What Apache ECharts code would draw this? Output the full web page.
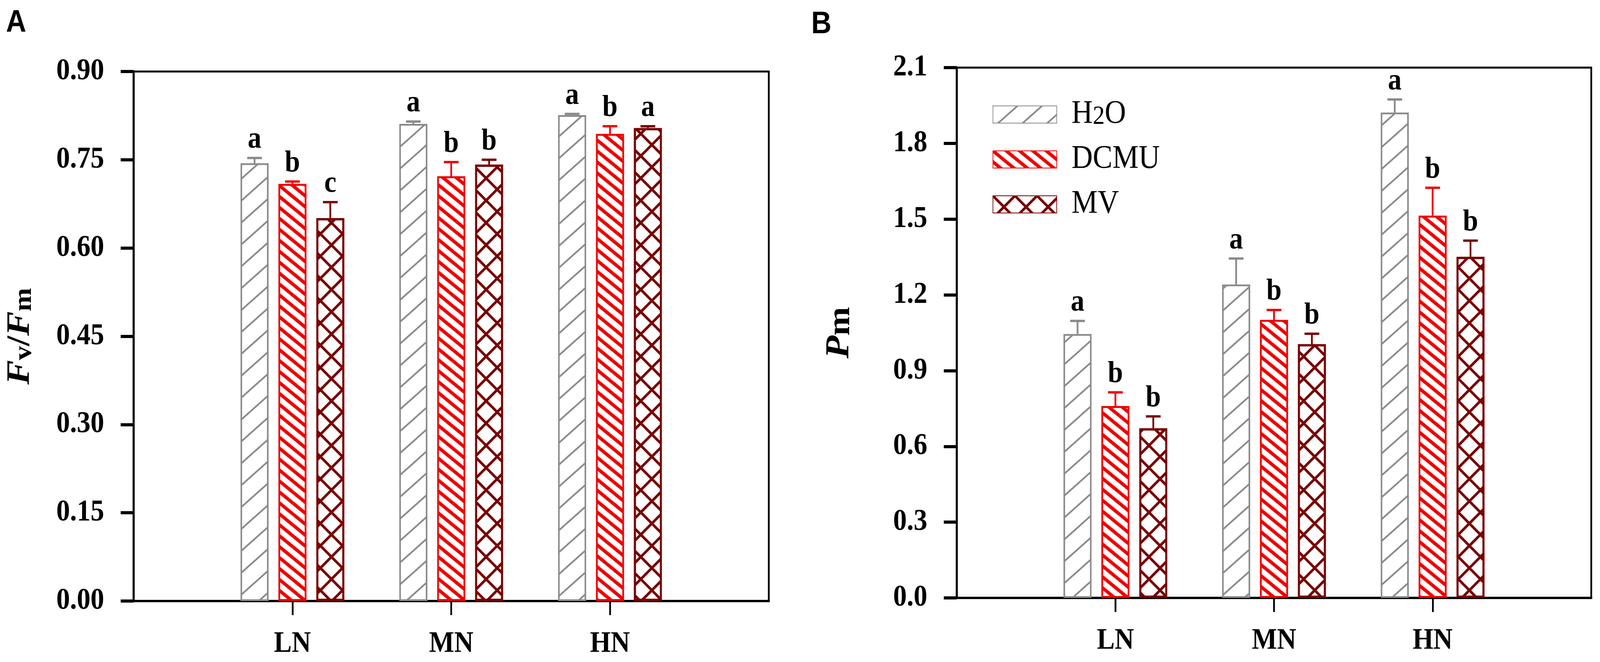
<!DOCTYPE html>
<html>
<head>
<meta charset="utf-8">
<script src="https://cdn.jsdelivr.net/npm/echarts@6/dist/echarts.min.js"></script>
<style>
html,body{margin:0;padding:0;background:#fff;overflow:hidden;}
#main{width:4562px;height:1694px;transform-origin:0 0;}
</style>
</head>
<body>
<div id="main"></div>
<script>
// categories and series
var categories = ['LN', 'MN', 'HN'];
var seriesNames = ['H2O', 'DCMU', 'MV'];

// panel A: Fv/Fm
var fvfmH2O  = [0.744, 0.811, 0.826];
var fvfmDCMU = [0.709, 0.722, 0.794];
var fvfmMV   = [0.651, 0.742, 0.804];
var fvfmErrH2O  = [0.009, 0.004, 0.002];
var fvfmErrDCMU = [0.004, 0.024, 0.013];
var fvfmErrMV   = [0.027, 0.008, 0.003];
var fvfmLetH2O  = ['a', 'a', 'a'];
var fvfmLetDCMU = ['b', 'b', 'b'];
var fvfmLetMV   = ['c', 'b', 'a'];
var fvfmTicks = {min: 0, max: 0.9, step: 0.15};

// panel B: Pm
var pmH2O  = [1.045, 1.241, 1.922];
var pmDCMU = [0.760, 1.101, 1.514];
var pmMV   = [0.672, 1.005, 1.351];
var pmErrH2O  = [0.052, 0.103, 0.052];
var pmErrDCMU = [0.054, 0.039, 0.110];
var pmErrMV   = [0.047, 0.041, 0.064];
var pmLetH2O  = ['a', 'a', 'a'];
var pmLetDCMU = ['b', 'b', 'b'];
var pmLetMV   = ['b', 'b', 'b'];
var pmTicks = {min: 0, max: 2.1, step: 0.3};

// empty slots either side so groups sit at 1/4, 2/4, 3/4 of the axis
var axisCats = [''].concat(categories, ['']);

var SERIF = '"Liberation Serif", "Times New Roman", serif';
var colors = ['#8a8a8a', '#ee0000', '#780000'];
var borderW = [4.5, 5, 6];
var BAR_W = 80, BAR_GAP = 28;

// the window may be narrower than the figure: squeeze the whole page to fit
var el = document.getElementById('main');
el.style.transform = 'scale(' + (window.innerWidth / 4562) + ',' + (window.innerHeight / 1694) + ')';

// hatch fills
function hatch(color, w, h, lw, dirs) {
  var c = document.createElement('canvas');
  c.width = w; c.height = h;
  var g = c.getContext('2d');
  g.fillStyle = '#fff';
  g.fillRect(0, 0, w, h);
  g.strokeStyle = color;
  g.lineWidth = lw;
  for (var dx = -1; dx <= 1; dx++) {
    for (var dy = -1; dy <= 1; dy++) {
      dirs.forEach(function (d) {
        g.beginPath();
        if (d == '/') {
          g.moveTo(dx * w, dy * h + h);
          g.lineTo(dx * w + w, dy * h);
        } else {
          g.moveTo(dx * w, dy * h);
          g.lineTo(dx * w + w, dy * h + h);
        }
        g.stroke();
      });
    }
  }
  return {image: c, repeat: 'repeat'};
}
var fills = [
  hatch(colors[0], 70, 56, 4.5, ['/']),
  hatch(colors[1], 38, 28, 9, ['\\']),
  hatch(colors[2], 63, 57, 7, ['/', '\\'])
];

function pad(arr) {
  return ['-'].concat(arr, ['-']);
}

function panelSeries(gi, vals, errs, lets) {
  var out = [];
  for (var i = 0; i < 3; i++) {
    out.push({
      type: 'bar',
      name: seriesNames[i],
      xAxisIndex: gi,
      yAxisIndex: gi,
      data: pad(vals[i]),
      barWidth: BAR_W,
      barGap: (BAR_GAP / BAR_W * 100) + '%',
      itemStyle: {color: fills[i], borderColor: colors[i], borderWidth: borderW[i]},
      z: 2
    });
  }
  // error bars + significance letters
  for (var k = 0; k < 3; k++) {
    (function (i) {
      var rows = vals[i].map(function (v, j) { return [j + 1, v, errs[i][j]]; });
      out.push({
        type: 'custom',
        xAxisIndex: gi,
        yAxisIndex: gi,
        data: rows,
        z: 3,
        renderItem: function (params, api) {
          var x = api.value(0), v = api.value(1), e = api.value(2);
          var base = api.coord([x, v]);
          var top = api.coord([x, v + e]);
          var cx = base[0] + (i - 1) * (BAR_W + BAR_GAP);
          return {
            type: 'group',
            children: [
              {type: 'line', shape: {x1: cx, y1: base[1], x2: cx, y2: top[1]},
                style: {stroke: colors[i], lineWidth: 5}},
              {type: 'line', shape: {x1: cx - 21, y1: top[1], x2: cx + 21, y2: top[1]},
                style: {stroke: colors[i], lineWidth: 6}},
              {type: 'text', x: cx, y: top[1] - 7,
                style: {text: lets[i][params.dataIndex], align: 'center', verticalAlign: 'bottom',
                  font: 'bold 78px ' + SERIF, fill: '#000'}}
            ]
          };
        }
      });
    })(k);
  }
  return out;
}

function xAxisFor(gi) {
  return {
    type: 'category',
    gridIndex: gi,
    data: axisCats,
    boundaryGap: false,
    axisLine: {show: true, lineStyle: {color: '#000', width: 6}},
    axisTick: {show: true, length: 36, lineStyle: {color: '#000', width: 5},
      interval: function (i, v) { return v !== ''; }},
    axisLabel: {interval: function (i, v) { return v !== ''; }, margin: 72,
      fontFamily: SERIF, fontWeight: 'bold', fontSize: 76, color: '#000'},
    splitLine: {show: false}
  };
}

function yAxisFor(gi, t, digits, name, nameSize, subSize, gap) {
  return {
    type: 'value',
    gridIndex: gi,
    min: t.min,
    max: t.max,
    interval: t.step,
    axisLine: {show: true, lineStyle: {color: '#000', width: 6}},
    axisTick: {show: true, length: 37, lineStyle: {color: '#000', width: 8}},
    splitLine: {show: false},
    axisLabel: {margin: 84, fontFamily: SERIF, fontWeight: 'bold', fontSize: 78, color: '#000',
      formatter: function (v) { return v.toFixed(digits); }},
    name: name,
    nameLocation: 'middle',
    nameGap: gap,
    nameRotate: 90,
    nameTextStyle: {
      fontFamily: SERIF, fontWeight: 'bold', fontSize: nameSize, color: '#000', lineHeight: nameSize,
      rich: {
        it: {fontFamily: SERIF, fontStyle: 'italic', fontWeight: 'bold', fontSize: nameSize, lineHeight: nameSize},
        b: {fontFamily: SERIF, fontWeight: 'bold', fontSize: nameSize, lineHeight: nameSize},
        sub: {fontFamily: SERIF, fontWeight: 'bold', fontSize: subSize, lineHeight: 1, verticalAlign: 'bottom'}
      }
    }
  };
}

var chart = echarts.init(el);
var option = {
  animation: false,
  backgroundColor: '#fff',
  title: [
    {text: 'A', left: 12, top: 14, textStyle: {fontFamily: '"Liberation Sans", Arial, sans-serif', fontWeight: 'bold', fontSize: 80, color: '#000'}},
    {text: 'B', left: 2308, top: 18, textStyle: {fontFamily: '"Liberation Sans", Arial, sans-serif', fontWeight: 'bold', fontSize: 80, color: '#000'}}
  ],
  grid: [
    {left: 381, top: 183, width: 1811, height: 1355, show: true, borderColor: '#000', borderWidth: 5},
    {left: 2728, top: 173, width: 1809, height: 1357, show: true, borderColor: '#000', borderWidth: 5}
  ],
  legend: {
    left: 2825,
    top: 246,
    orient: 'vertical',
    icon: 'rect',
    itemWidth: 182,
    itemHeight: 44,
    itemGap: 31,
    data: seriesNames,
    formatter: function (n) { return n == 'H2O' ? '{n|H}{sub|2}{n|O}' : '{n|' + n + '}'; },
    textStyle: {
      fontFamily: SERIF, fontSize: 84, color: '#000', padding: [0, 0, 0, 37],
      rich: {
        n: {fontFamily: SERIF, fontSize: 84, color: '#000', lineHeight: 80},
        sub: {fontFamily: SERIF, fontSize: 68, color: '#000', lineHeight: 28, verticalAlign: 'bottom'}
      }
    }
  },
  xAxis: [xAxisFor(0), xAxisFor(1)],
  yAxis: [
    yAxisFor(0, fvfmTicks, 2, '{it|F}{sub|v}{b|/}{it|F}{sub|m}', 94, 72, 276),
    yAxisFor(1, pmTicks, 1, '{it|P}{sub|m}', 96, 88, 286)
  ],
  series: panelSeries(0, [fvfmH2O, fvfmDCMU, fvfmMV], [fvfmErrH2O, fvfmErrDCMU, fvfmErrMV], [fvfmLetH2O, fvfmLetDCMU, fvfmLetMV])
    .concat(panelSeries(1, [pmH2O, pmDCMU, pmMV], [pmErrH2O, pmErrDCMU, pmErrMV], [pmLetH2O, pmLetDCMU, pmLetMV]))
};
chart.setOption(option);
</script>
</body>
</html>
